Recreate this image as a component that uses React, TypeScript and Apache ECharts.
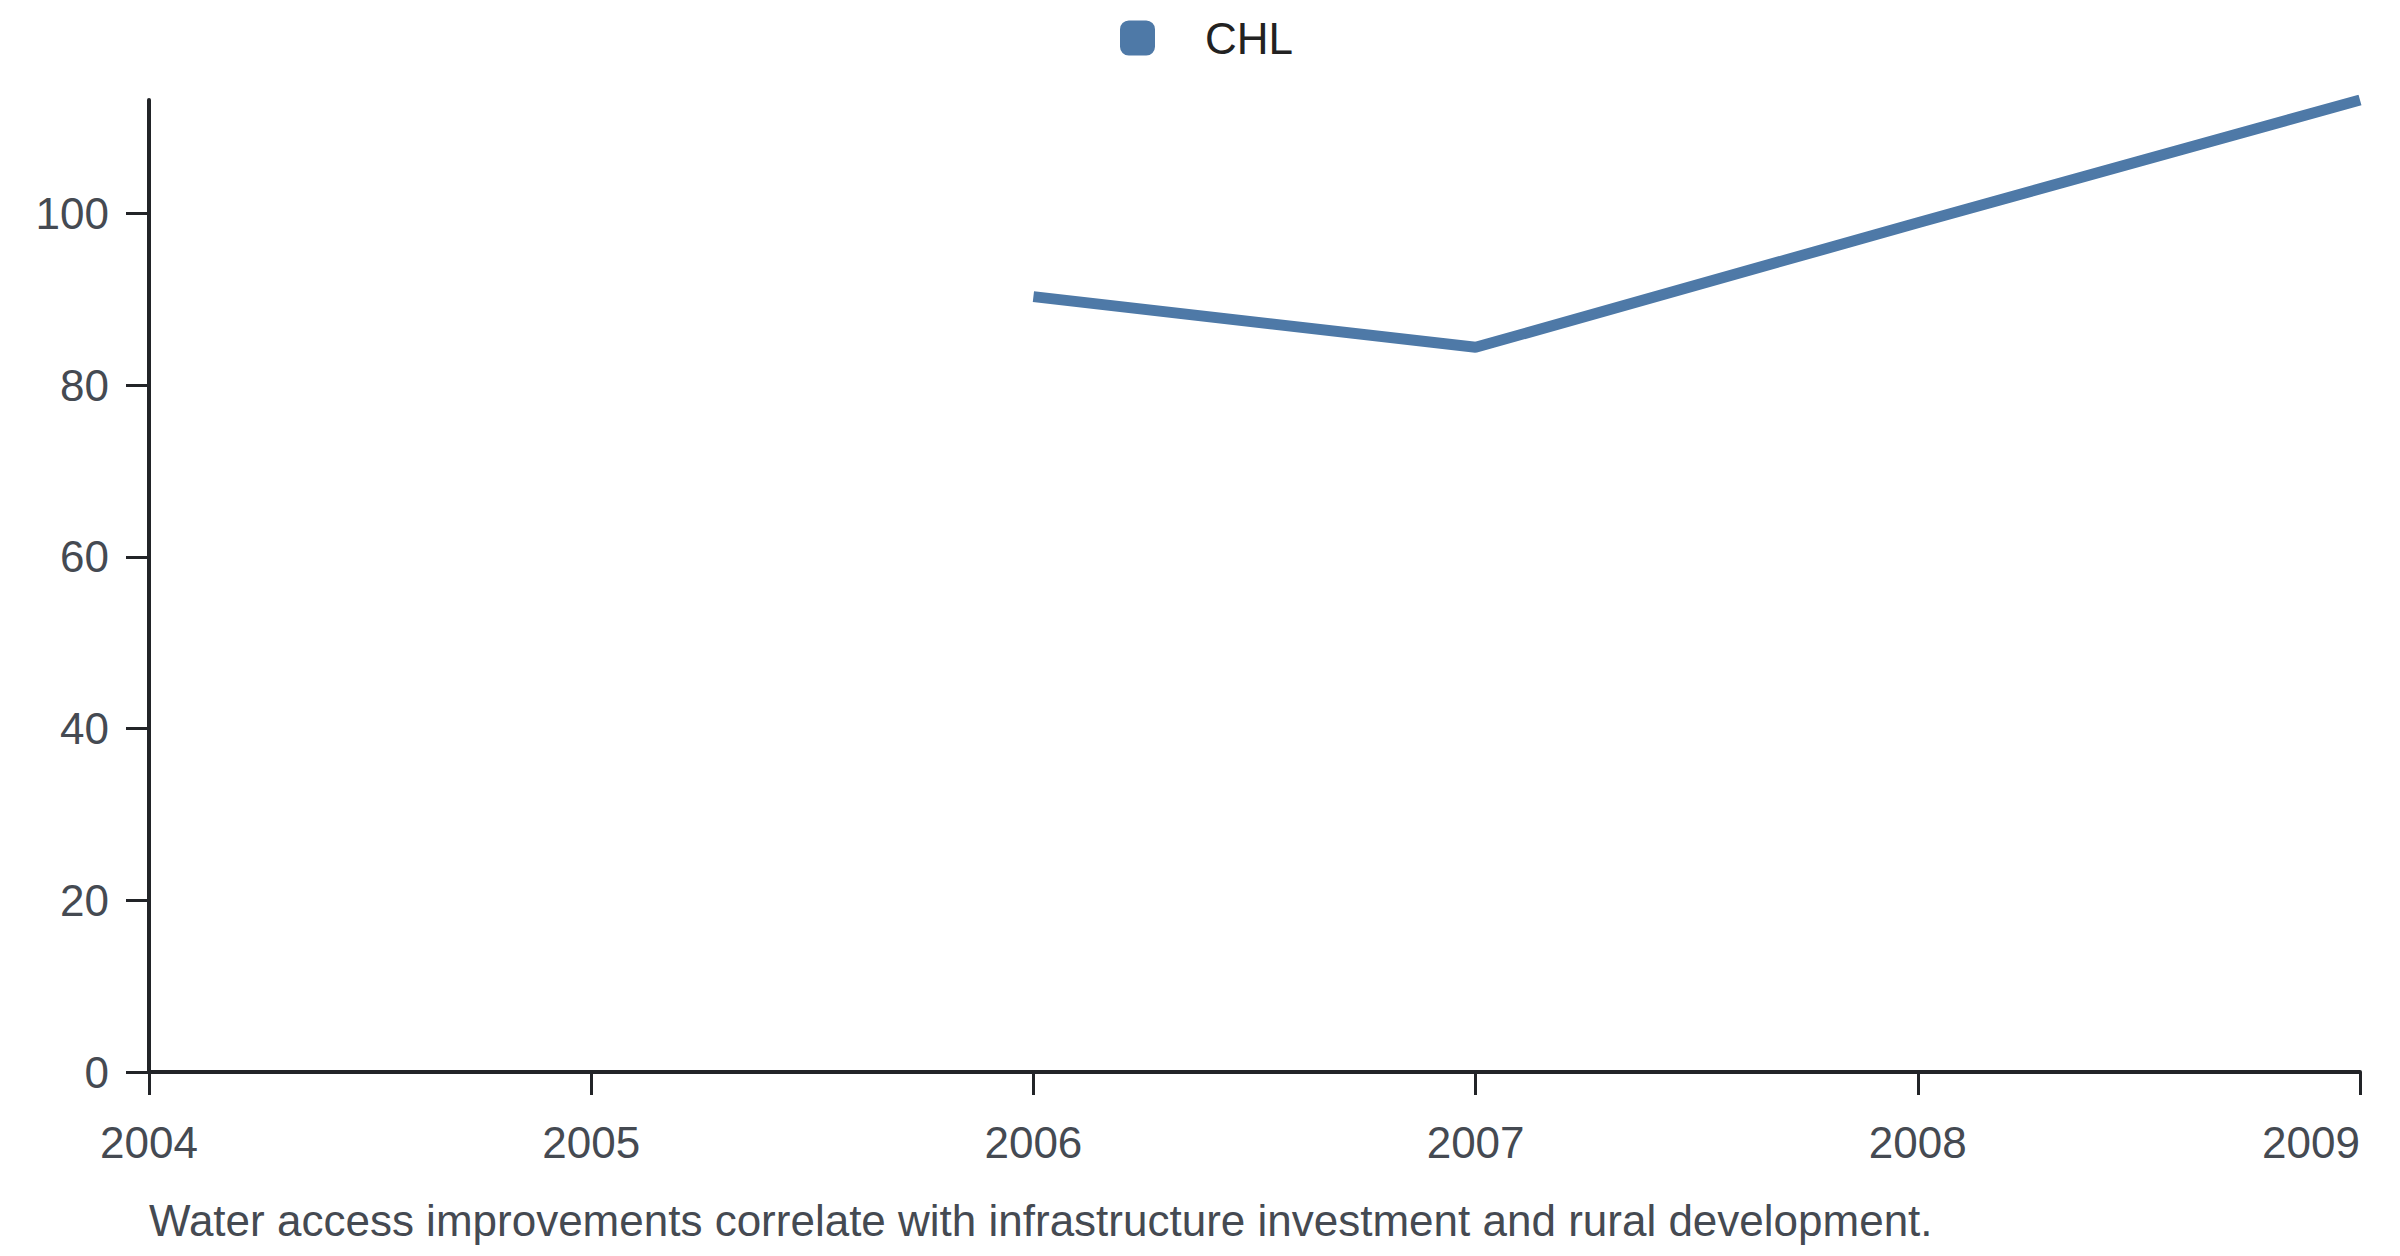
import React, { useEffect, useRef } from 'react';
import * as echarts from 'echarts';

// chart data
const years = ['2004', '2005', '2006', '2007', '2008', '2009'];
const chlValues = [null, null, 90.3, 84.4, 98.9, 113.2];
const yTickValues = [0, 20, 40, 60, 80, 100];
const seriesName = 'CHL';
const caption = 'Water access improvements correlate with infrastructure investment and rural development.';

const FONT = 'Arial, Liberation Sans, Helvetica, sans-serif';
const FONT_SIZE = 44;
const LINE_COLOR = '#4e79a7';
const AXIS_COLOR = '#222428';
const LABEL_COLOR = '#454a52';

const App: React.FC = () => {
  const chartRef = useRef<HTMLDivElement>(null);

  useEffect(() => {
    if (!chartRef.current) return () => {};
    const chart = echarts.init(chartRef.current, null, { renderer: 'svg' });

    const option: any = {
      animation: false,
      backgroundColor: '#ffffff',
      textStyle: { fontFamily: FONT },
      legend: {
        top: 11,
        left: 1115,
        itemWidth: 35,
        itemHeight: 35,
        icon: 'roundRect',
        data: [seriesName],
        textStyle: {
          fontSize: FONT_SIZE,
          color: '#222222',
          fontFamily: FONT,
          padding: [0, 0, 0, 45],
        },
      },
      grid: {
        left: 149,
        right: 40,
        top: 100,
        bottom: 184,
        containLabel: false,
      },
      xAxis: {
        type: 'category',
        data: years,
        boundaryGap: false,
        axisLine: { lineStyle: { color: AXIS_COLOR, width: 4 } },
        axisTick: {
          alignWithLabel: true,
          length: 23,
          lineStyle: { color: AXIS_COLOR, width: 3 },
        },
        axisLabel: {
          margin: 48,
          fontSize: FONT_SIZE,
          color: LABEL_COLOR,
          fontFamily: FONT,
          alignMaxLabel: 'right',
        },
        splitLine: { show: false },
      },
      yAxis: {
        type: 'value',
        min: 0,
        max: 'dataMax',
        interval: 20,
        axisLine: { show: true, lineStyle: { color: AXIS_COLOR, width: 4 } },
        axisTick: {
          show: true,
          length: 23,
          customValues: yTickValues,
          lineStyle: { color: AXIS_COLOR, width: 3 },
        },
        axisLabel: {
          margin: 40,
          fontSize: FONT_SIZE,
          color: LABEL_COLOR,
          fontFamily: FONT,
          customValues: yTickValues,
        },
        splitLine: { show: false },
      },
      series: [
        {
          name: seriesName,
          type: 'line',
          data: chlValues,
          showSymbol: false,
          symbol: 'none',
          color: LINE_COLOR,
          lineStyle: { color: LINE_COLOR, width: 11, cap: 'butt' },
        },
      ],
      graphic: [
        {
          type: 'text',
          left: 149,
          top: 1198,
          style: {
            text: caption,
            fontSize: FONT_SIZE,
            fontFamily: FONT,
            fill: LABEL_COLOR,
          },
        },
      ],
    };

    chart.setOption(option);
    const handleResize = () => chart.resize();
    window.addEventListener('resize', handleResize);
    return () => {
      window.removeEventListener('resize', handleResize);
      chart.dispose();
    };
  }, []);

  return (
    <div
      ref={chartRef}
      style={{ position: 'fixed', left: 0, top: 0, width: 2400, height: 1256, background: '#fff' }}
    />
  );
};

export default App;
